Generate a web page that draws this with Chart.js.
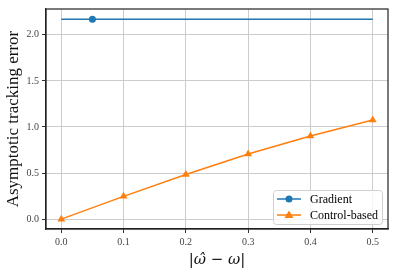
<!DOCTYPE html>
<html>
<head>
<meta charset="utf-8">
<script src="https://cdn.jsdelivr.net/npm/chart.js@4/dist/chart.umd.min.js"></script>
<style>
  html, body { margin: 0; padding: 0; background: #fff; }
  #wrap { width: 395px; height: 273px; }
</style>
</head>
<body>
<div id="wrap"><canvas id="chart" width="395" height="273"></canvas></div>
<script>
const gradX = [0, 0.05, 0.5];
const gradY = [2.17, 2.17, 2.17];
const gradMarks = [0, 3.5, 0];
const ctrlX = [0, 0.1, 0.2, 0.3, 0.4, 0.5];
const ctrlY = [0, 0.247, 0.484, 0.706, 0.903, 1.075];
const xTicks = [0, 0.1, 0.2, 0.3, 0.4, 0.5];
const yTicks = [0, 0.5, 1.0, 1.5, 2.0];

const serif = "'Liberation Serif', 'DejaVu Serif', serif";
const blue = "#1f77b4";
const orange = "#ff7f0e";

function pts(xs, ys) {
  return xs.map((x, i) => ({ x: x, y: ys[i] }));
}

const legendBox = {
  id: "legendBox",
  afterDraw(chart) {
    const c = chart.ctx;
    const a = chart.chartArea;
    const w = 109, h = 34;
    const x0 = a.right - 6 - w, y0 = a.bottom - 5 - h;
    c.save();
    c.fillStyle = "rgba(255,255,255,0.8)";
    c.strokeStyle = "#d0d0d0";
    c.lineWidth = 1;
    c.beginPath();
    c.roundRect(x0 + 0.5, y0 + 0.5, w, h, 3);
    c.fill();
    c.stroke();
    chart.data.datasets.forEach((ds, i) => {
      const y = y0 + 9 + i * 16;
      c.strokeStyle = ds.borderColor;
      c.lineWidth = 1.5;
      c.beginPath();
      c.moveTo(x0 + 4, y);
      c.lineTo(x0 + 28, y);
      c.stroke();
      c.fillStyle = ds.borderColor;
      c.beginPath();
      if (ds.pointStyle === "triangle") {
        c.moveTo(x0 + 16, y - 4.5);
        c.lineTo(x0 + 20.5, y + 3);
        c.lineTo(x0 + 11.5, y + 3);
        c.closePath();
      } else {
        c.arc(x0 + 16, y, 3.5, 0, Math.PI * 2);
      }
      c.fill();
      c.fillStyle = "#000";
      c.font = "12px " + serif;
      c.textBaseline = "middle";
      c.fillText(ds.label, x0 + 37, y + 1);
    });
    c.restore();
  }
};

new Chart(document.getElementById("chart"), {
  type: "scatter",
  data: {
    datasets: [{
      label: "Gradient",
      data: pts(gradX, gradY),
      borderColor: blue,
      backgroundColor: blue,
      showLine: true,
      borderWidth: 1.5,
      pointRadius: gradMarks,
      pointStyle: "circle",
      pointBorderWidth: 0
    }, {
      label: "Control-based",
      data: pts(ctrlX, ctrlY),
      borderColor: orange,
      backgroundColor: orange,
      showLine: true,
      borderWidth: 1.5,
      pointRadius: 4.5,
      pointStyle: "triangle",
      pointBorderWidth: 0
    }]
  },
  options: {
    animation: false,
    responsive: false,
    layout: { padding: { top: 7, right: 7, left: 0, bottom: 0 } },
    plugins: {
      legend: { display: false },
      tooltip: { enabled: false }
    },
    scales: {
      x: {
        type: "linear",
        min: -0.0245,
        max: 0.5245,
        afterBuildTicks: s => { s.ticks = xTicks.map(v => ({ value: v })); },
        afterFit: s => { s.height = 44; },
        ticks: {
          color: "#444",
          font: { family: serif, size: 10 },
          padding: 3,
          maxRotation: 0,
          callback: v => v.toFixed(1)
        },
        grid: { color: "#cccccc", lineWidth: 1, tickColor: "#333", tickLength: 4 },
        border: { color: "#222", width: 1.2 },
        title: {
          display: true,
          text: "|\u03C9\u0302 \u2212 \u03C9|",
          font: { family: "'DejaVu Serif', serif", size: 15, style: "italic" },
          color: "#111",
          padding: { top: 2 }
        }
      },
      y: {
        min: -0.107,
        max: 2.28,
        afterBuildTicks: s => { s.ticks = yTicks.map(v => ({ value: v })); },
        afterFit: s => { s.width = 46; },
        ticks: {
          color: "#444",
          font: { family: serif, size: 10 },
          padding: 3,
          callback: v => v.toFixed(1)
        },
        grid: { color: "#cccccc", lineWidth: 1, tickColor: "#333", tickLength: 4 },
        border: { color: "#222", width: 1.2 },
        title: {
          display: true,
          text: "Asymptotic tracking error",
          font: { family: serif, size: 17 },
          color: "#111",
          padding: { top: 3, bottom: 0 }
        }
      }
    }
  },
  plugins: [legendBox, {
    id: "frame",
    afterDraw(chart) {
      const c = chart.ctx, a = chart.chartArea;
      c.save();
      c.strokeStyle = "#222";
      c.lineWidth = 1.2;
      c.strokeRect(a.left, a.top, a.right - a.left, a.bottom - a.top);
      c.restore();
    }
  }]
});
</script>
</body>
</html>
